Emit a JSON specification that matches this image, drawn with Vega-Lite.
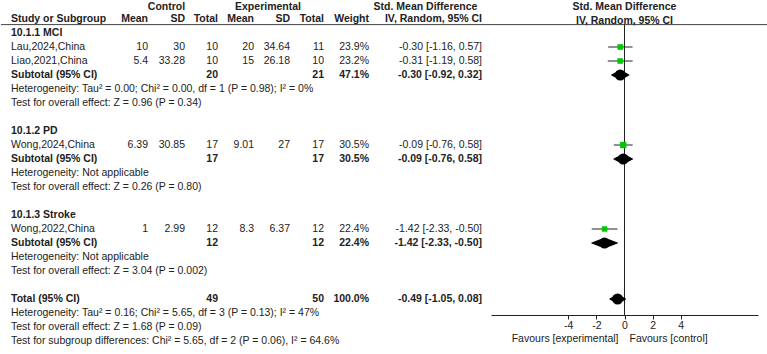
{
  "$schema": "https://vega.github.io/schema/vega-lite/v6.json",
  "padding": 0,
  "background": "white",
  "spacing": 0,
  "bounds": "flush",
  "data": {
    "values": [
      {"row": 0, "kind": "span", "csd": "Control", "esd": "Experimental", "ci": "Std. Mean Difference", "plot": "Std. Mean Difference"},
      {"row": 1, "kind": "head", "label": "Study or Subgroup", "cmean": "Mean", "csd": "SD", "cn": "Total", "emean": "Mean", "esd": "SD", "en": "Total", "weight": "Weight", "ci": "IV, Random, 95% CI", "plot": "IV, Random, 95% CI"},
      {"row": 2, "kind": "group", "label": "10.1.1 MCI"},
      {"row": 3, "kind": "study", "label": "Lau,2024,China", "cmean": 10, "csd": 30, "cn": 10, "emean": 20, "esd": 34.64, "en": 11, "weight": 0.239, "smd": -0.30, "lo": -1.16, "hi": 0.57},
      {"row": 4, "kind": "study", "label": "Liao,2021,China", "cmean": 5.4, "csd": 33.28, "cn": 10, "emean": 15, "esd": 26.18, "en": 10, "weight": 0.232, "smd": -0.31, "lo": -1.19, "hi": 0.58},
      {"row": 5, "kind": "subtotal", "label": "Subtotal (95% CI)", "cn": 20, "en": 21, "weight": 0.471, "smd": -0.30, "lo": -0.92, "hi": 0.32},
      {"row": 6, "kind": "note", "label": "Heterogeneity: Tau² = 0.00; Chi² = 0.00, df = 1 (P = 0.98); I² = 0%"},
      {"row": 7, "kind": "note", "label": "Test for overall effect: Z = 0.96 (P = 0.34)"},
      {"row": 9, "kind": "group", "label": "10.1.2 PD"},
      {"row": 10, "kind": "study", "label": "Wong,2024,China", "cmean": 6.39, "csd": 30.85, "cn": 17, "emean": 9.01, "esd": 27, "en": 17, "weight": 0.305, "smd": -0.09, "lo": -0.76, "hi": 0.58},
      {"row": 11, "kind": "subtotal", "label": "Subtotal (95% CI)", "cn": 17, "en": 17, "weight": 0.305, "smd": -0.09, "lo": -0.76, "hi": 0.58},
      {"row": 12, "kind": "note", "label": "Heterogeneity: Not applicable"},
      {"row": 13, "kind": "note", "label": "Test for overall effect: Z = 0.26 (P = 0.80)"},
      {"row": 15, "kind": "group", "label": "10.1.3 Stroke"},
      {"row": 16, "kind": "study", "label": "Wong,2022,China", "cmean": 1, "csd": 2.99, "cn": 12, "emean": 8.3, "esd": 6.37, "en": 12, "weight": 0.224, "smd": -1.42, "lo": -2.33, "hi": -0.50},
      {"row": 17, "kind": "subtotal", "label": "Subtotal (95% CI)", "cn": 12, "en": 12, "weight": 0.224, "smd": -1.42, "lo": -2.33, "hi": -0.50},
      {"row": 18, "kind": "note", "label": "Heterogeneity: Not applicable"},
      {"row": 19, "kind": "note", "label": "Test for overall effect: Z = 3.04 (P = 0.002)"},
      {"row": 21, "kind": "total", "label": "Total (95% CI)", "cn": 49, "en": 50, "weight": 1.0, "smd": -0.49, "lo": -1.05, "hi": 0.08},
      {"row": 22, "kind": "note", "label": "Heterogeneity: Tau² = 0.16; Chi² = 5.65, df = 3 (P = 0.13); I² = 47%"},
      {"row": 23, "kind": "note", "label": "Test for overall effect: Z = 1.68 (P = 0.09)"},
      {"row": 24, "kind": "note", "label": "Test for subgroup differences: Chi² = 5.65, df = 2 (P = 0.06), I² = 64.6%"}
    ]
  },
  "hconcat": [
    {
      "width": 111, "height": 315,
      "layer": [
        {"data": {"values": [{}]}, "mark": {"type": "rule", "color": "#444"}, "encoding": {"y": {"datum": 1.4, "type": "quantitative", "axis": null}}},
        {"transform": [{"filter": "datum.kind == 'study' || datum.kind == 'note'"}],
         "mark": {"type": "text", "align": "left", "dx": 10},
         "encoding": {"x": {"value": 0}, "y": {"field": "row", "type": "quantitative", "scale": {"domain": [0, 24], "range": [5, 341]}, "axis": null}, "text": {"field": "label", "type": "nominal"}}},
        {"transform": [{"filter": "datum.kind == 'head' || datum.kind == 'group' || datum.kind == 'subtotal' || datum.kind == 'total'"}],
         "mark": {"type": "text", "align": "left", "dx": 10, "fontWeight": "bold"},
         "encoding": {"x": {"value": 0}, "y": {"field": "row", "type": "quantitative", "scale": {"domain": [0, 24], "range": [5, 341]}, "axis": null}, "text": {"field": "label", "type": "nominal"}}}
      ]
    },
    {
      "width": 36, "height": 315,
      "layer": [
        {"data": {"values": [{}]}, "mark": {"type": "rule", "color": "#444"}, "encoding": {"y": {"datum": 1.4, "type": "quantitative", "axis": null}}},
        {"transform": [{"filter": "datum.kind == 'study'"}],
         "mark": {"type": "text", "align": "right"},
         "encoding": {"x": {"value": "width"}, "y": {"field": "row", "type": "quantitative", "scale": {"domain": [0, 24], "range": [5, 341]}, "axis": null}, "text": {"field": "cmean", "type": "nominal"}}},
        {"transform": [{"filter": "datum.kind == 'head'"}],
         "mark": {"type": "text", "align": "right", "fontWeight": "bold"},
         "encoding": {"x": {"value": "width"}, "y": {"field": "row", "type": "quantitative", "scale": {"domain": [0, 24], "range": [5, 341]}, "axis": null}, "text": {"field": "cmean", "type": "nominal"}}}
      ]
    },
    {
      "width": 37, "height": 315,
      "layer": [
        {"data": {"values": [{}]}, "mark": {"type": "rule", "color": "#444"}, "encoding": {"y": {"datum": 1.4, "type": "quantitative", "axis": null}}},
        {"transform": [{"filter": "datum.kind == 'study'"}],
         "mark": {"type": "text", "align": "right"},
         "encoding": {"x": {"value": "width"}, "y": {"field": "row", "type": "quantitative", "scale": {"domain": [0, 24], "range": [5, 341]}, "axis": null}, "text": {"field": "csd", "type": "nominal"}}},
        {"transform": [{"filter": "datum.kind == 'head'"}],
         "mark": {"type": "text", "align": "right", "fontWeight": "bold"},
         "encoding": {"x": {"value": "width"}, "y": {"field": "row", "type": "quantitative", "scale": {"domain": [0, 24], "range": [5, 341]}, "axis": null}, "text": {"field": "csd", "type": "nominal"}}},
        {"transform": [{"filter": "datum.kind == 'span'"}],
         "mark": {"type": "text", "align": "center", "fontWeight": "bold", "dy": 2},
         "encoding": {"x": {"value": 18.5}, "y": {"field": "row", "type": "quantitative", "scale": {"domain": [0, 24], "range": [5, 341]}, "axis": null}, "text": {"field": "csd", "type": "nominal"}}}
      ]
    },
    {
      "width": 33, "height": 315,
      "layer": [
        {"data": {"values": [{}]}, "mark": {"type": "rule", "color": "#444"}, "encoding": {"y": {"datum": 1.4, "type": "quantitative", "axis": null}}},
        {"transform": [{"filter": "datum.kind == 'study'"}],
         "mark": {"type": "text", "align": "right"},
         "encoding": {"x": {"value": "width"}, "y": {"field": "row", "type": "quantitative", "scale": {"domain": [0, 24], "range": [5, 341]}, "axis": null}, "text": {"field": "cn", "type": "nominal"}}},
        {"transform": [{"filter": "datum.kind == 'head' || datum.kind == 'subtotal' || datum.kind == 'total'"}],
         "mark": {"type": "text", "align": "right", "fontWeight": "bold"},
         "encoding": {"x": {"value": "width"}, "y": {"field": "row", "type": "quantitative", "scale": {"domain": [0, 24], "range": [5, 341]}, "axis": null}, "text": {"field": "cn", "type": "nominal"}}}
      ]
    },
    {
      "width": 36, "height": 315,
      "layer": [
        {"data": {"values": [{}]}, "mark": {"type": "rule", "color": "#444"}, "encoding": {"y": {"datum": 1.4, "type": "quantitative", "axis": null}}},
        {"transform": [{"filter": "datum.kind == 'study'"}],
         "mark": {"type": "text", "align": "right"},
         "encoding": {"x": {"value": "width"}, "y": {"field": "row", "type": "quantitative", "scale": {"domain": [0, 24], "range": [5, 341]}, "axis": null}, "text": {"field": "emean", "type": "nominal"}}},
        {"transform": [{"filter": "datum.kind == 'head'"}],
         "mark": {"type": "text", "align": "right", "fontWeight": "bold"},
         "encoding": {"x": {"value": "width"}, "y": {"field": "row", "type": "quantitative", "scale": {"domain": [0, 24], "range": [5, 341]}, "axis": null}, "text": {"field": "emean", "type": "nominal"}}}
      ]
    },
    {
      "width": 36, "height": 315,
      "layer": [
        {"data": {"values": [{}]}, "mark": {"type": "rule", "color": "#444"}, "encoding": {"y": {"datum": 1.4, "type": "quantitative", "axis": null}}},
        {"transform": [{"filter": "datum.kind == 'study'"}],
         "mark": {"type": "text", "align": "right"},
         "encoding": {"x": {"value": "width"}, "y": {"field": "row", "type": "quantitative", "scale": {"domain": [0, 24], "range": [5, 341]}, "axis": null}, "text": {"field": "esd", "type": "nominal"}}},
        {"transform": [{"filter": "datum.kind == 'head'"}],
         "mark": {"type": "text", "align": "right", "fontWeight": "bold"},
         "encoding": {"x": {"value": "width"}, "y": {"field": "row", "type": "quantitative", "scale": {"domain": [0, 24], "range": [5, 341]}, "axis": null}, "text": {"field": "esd", "type": "nominal"}}},
        {"transform": [{"filter": "datum.kind == 'span'"}],
         "mark": {"type": "text", "align": "center", "fontWeight": "bold", "dy": 2},
         "encoding": {"x": {"value": 14}, "y": {"field": "row", "type": "quantitative", "scale": {"domain": [0, 24], "range": [5, 341]}, "axis": null}, "text": {"field": "esd", "type": "nominal"}}}
      ]
    },
    {
      "width": 34, "height": 315,
      "layer": [
        {"data": {"values": [{}]}, "mark": {"type": "rule", "color": "#444"}, "encoding": {"y": {"datum": 1.4, "type": "quantitative", "axis": null}}},
        {"transform": [{"filter": "datum.kind == 'study'"}],
         "mark": {"type": "text", "align": "right"},
         "encoding": {"x": {"value": "width"}, "y": {"field": "row", "type": "quantitative", "scale": {"domain": [0, 24], "range": [5, 341]}, "axis": null}, "text": {"field": "en", "type": "nominal"}}},
        {"transform": [{"filter": "datum.kind == 'head' || datum.kind == 'subtotal' || datum.kind == 'total'"}],
         "mark": {"type": "text", "align": "right", "fontWeight": "bold"},
         "encoding": {"x": {"value": "width"}, "y": {"field": "row", "type": "quantitative", "scale": {"domain": [0, 24], "range": [5, 341]}, "axis": null}, "text": {"field": "en", "type": "nominal"}}}
      ]
    },
    {
      "width": 45, "height": 315,
      "layer": [
        {"data": {"values": [{}]}, "mark": {"type": "rule", "color": "#444"}, "encoding": {"y": {"datum": 1.4, "type": "quantitative", "axis": null}}},
        {"transform": [{"filter": "datum.kind == 'study'"}],
         "mark": {"type": "text", "align": "right"},
         "encoding": {"x": {"value": "width"}, "y": {"field": "row", "type": "quantitative", "scale": {"domain": [0, 24], "range": [5, 341]}, "axis": null}, "text": {"field": "weight", "type": "quantitative", "format": ".1%"}}},
        {"transform": [{"filter": "datum.kind == 'subtotal' || datum.kind == 'total'"}],
         "mark": {"type": "text", "align": "right", "fontWeight": "bold"},
         "encoding": {"x": {"value": "width"}, "y": {"field": "row", "type": "quantitative", "scale": {"domain": [0, 24], "range": [5, 341]}, "axis": null}, "text": {"field": "weight", "type": "quantitative", "format": ".1%"}}},
        {"transform": [{"filter": "datum.kind == 'head'"}],
         "mark": {"type": "text", "align": "right", "fontWeight": "bold"},
         "encoding": {"x": {"value": "width"}, "y": {"field": "row", "type": "quantitative", "scale": {"domain": [0, 24], "range": [5, 341]}, "axis": null}, "text": {"field": "weight", "type": "nominal"}}}
      ]
    },
    {
      "width": 113, "height": 315,
      "layer": [
        {"data": {"values": [{}]}, "mark": {"type": "rule", "color": "#444"}, "encoding": {"y": {"datum": 1.4, "type": "quantitative", "axis": null}}},
        {"transform": [{"filter": "datum.kind == 'study'"}, {"calculate": "format(datum.smd, '.2f') + ' [' + format(datum.lo, '.2f') + ', ' + format(datum.hi, '.2f') + ']'", "as": "cilabel"}],
         "mark": {"type": "text", "align": "right"},
         "encoding": {"x": {"value": "width"}, "y": {"field": "row", "type": "quantitative", "scale": {"domain": [0, 24], "range": [5, 341]}, "axis": null}, "text": {"field": "cilabel", "type": "nominal"}}},
        {"transform": [{"filter": "datum.kind == 'subtotal' || datum.kind == 'total'"}, {"calculate": "format(datum.smd, '.2f') + ' [' + format(datum.lo, '.2f') + ', ' + format(datum.hi, '.2f') + ']'", "as": "cilabel"}],
         "mark": {"type": "text", "align": "right", "fontWeight": "bold"},
         "encoding": {"x": {"value": "width"}, "y": {"field": "row", "type": "quantitative", "scale": {"domain": [0, 24], "range": [5, 341]}, "axis": null}, "text": {"field": "cilabel", "type": "nominal"}}},
        {"transform": [{"filter": "datum.kind == 'head'"}],
         "mark": {"type": "text", "align": "right", "fontWeight": "bold"},
         "encoding": {"x": {"value": "width"}, "y": {"field": "row", "type": "quantitative", "scale": {"domain": [0, 24], "range": [5, 341]}, "axis": null}, "text": {"field": "ci", "type": "nominal"}}},
        {"transform": [{"filter": "datum.kind == 'span'"}],
         "mark": {"type": "text", "align": "center", "fontWeight": "bold", "dy": 2},
         "encoding": {"x": {"value": 56.5}, "y": {"field": "row", "type": "quantitative", "scale": {"domain": [0, 24], "range": [5, 341]}, "axis": null}, "text": {"field": "ci", "type": "nominal"}}}
      ]
    },
    {
      "width": 286, "height": 315,
      "layer": [
        {"data": {"values": [{}]}, "mark": {"type": "rule", "color": "#444"}, "encoding": {"y": {"datum": 1.4, "type": "quantitative", "axis": null}}},
        {"transform": [{"filter": "datum.kind == 'study'"}],
         "mark": {"type": "rule", "color": "#222", "strokeWidth": 1},
         "encoding": {
           "x": {"field": "lo", "type": "quantitative", "title": null,
                 "scale": {"domain": [-9.5, 9.5], "range": [9, 276], "nice": false, "zero": false},
                 "axis": {"values": [-4, -2, 0, 2, 4], "grid": false, "domainColor": "#222", "tickColor": "#222", "tickSize": 4, "labelFontSize": 10.5, "labelFont": "Liberation Sans", "labelColor": "#222", "labelPadding": 1, "labelFlush": false}},
           "x2": {"field": "hi"},
           "y": {"field": "row", "type": "quantitative", "scale": {"domain": [0, 24], "range": [5, 341]}, "axis": null}}},
        {"data": {"values": [{}]}, "mark": {"type": "rule", "color": "#222", "strokeWidth": 1},
         "encoding": {"x": {"datum": 0, "type": "quantitative"}, "y": {"datum": 1.4, "type": "quantitative", "axis": null}, "y2": {"datum": 22.14}}},
        {"transform": [{"filter": "datum.kind == 'study'"}],
         "mark": {"type": "point", "shape": "square", "filled": true, "color": "#00c800", "opacity": 1},
         "encoding": {
           "x": {"field": "smd", "type": "quantitative", "title": null},
           "y": {"field": "row", "type": "quantitative", "scale": {"domain": [0, 24], "range": [5, 341]}, "axis": null},
           "size": {"field": "weight", "type": "quantitative", "scale": {"domain": [0, 0.305], "range": [0, 40]}, "legend": null}}},
        {"transform": [{"filter": "datum.kind == 'subtotal' || datum.kind == 'total'"}, {"fold": ["lo", "smd", "hi"], "as": ["vertex", "xv"]}],
         "mark": {"type": "trail", "color": "#000"},
         "encoding": {
           "x": {"field": "xv", "type": "quantitative", "title": null},
           "y": {"field": "row", "type": "quantitative", "scale": {"domain": [0, 24], "range": [5, 341]}, "axis": null},
           "detail": {"field": "row", "type": "nominal"},
           "size": {"field": "vertex", "type": "ordinal", "scale": {"type": "ordinal", "domain": ["lo", "smd", "hi"], "range": [0, 11, 0]}, "legend": null}}},
        {"transform": [{"filter": "isValid(datum.plot)"}],
         "mark": {"type": "text", "align": "center", "fontWeight": "bold", "dy": 1.5},
         "encoding": {"x": {"datum": 0, "type": "quantitative"}, "y": {"field": "row", "type": "quantitative", "scale": {"domain": [0, 24], "range": [5, 341]}, "axis": null}, "text": {"field": "plot", "type": "nominal"}}},
        {"data": {"values": [{}]}, "mark": {"type": "text", "align": "right", "dx": -6, "text": "Favours [experimental]"},
         "encoding": {"x": {"datum": 0, "type": "quantitative"}, "y": {"datum": 23.85, "type": "quantitative", "axis": null}}},
        {"data": {"values": [{}]}, "mark": {"type": "text", "align": "left", "dx": 5, "text": "Favours [control]"},
         "encoding": {"x": {"datum": 0, "type": "quantitative"}, "y": {"datum": 23.85, "type": "quantitative", "axis": null}}}
      ]
    }
  ],
  "config": {
    "view": {"stroke": null},
    "axis": {"grid": false},
    "text": {"font": "Liberation Sans", "fontSize": 10.5, "color": "#222", "baseline": "middle"},
    "locale": {"number": {"decimal": ".", "thousands": ",", "grouping": [3], "currency": ["$", ""], "minus": "-"}}
  }
}
